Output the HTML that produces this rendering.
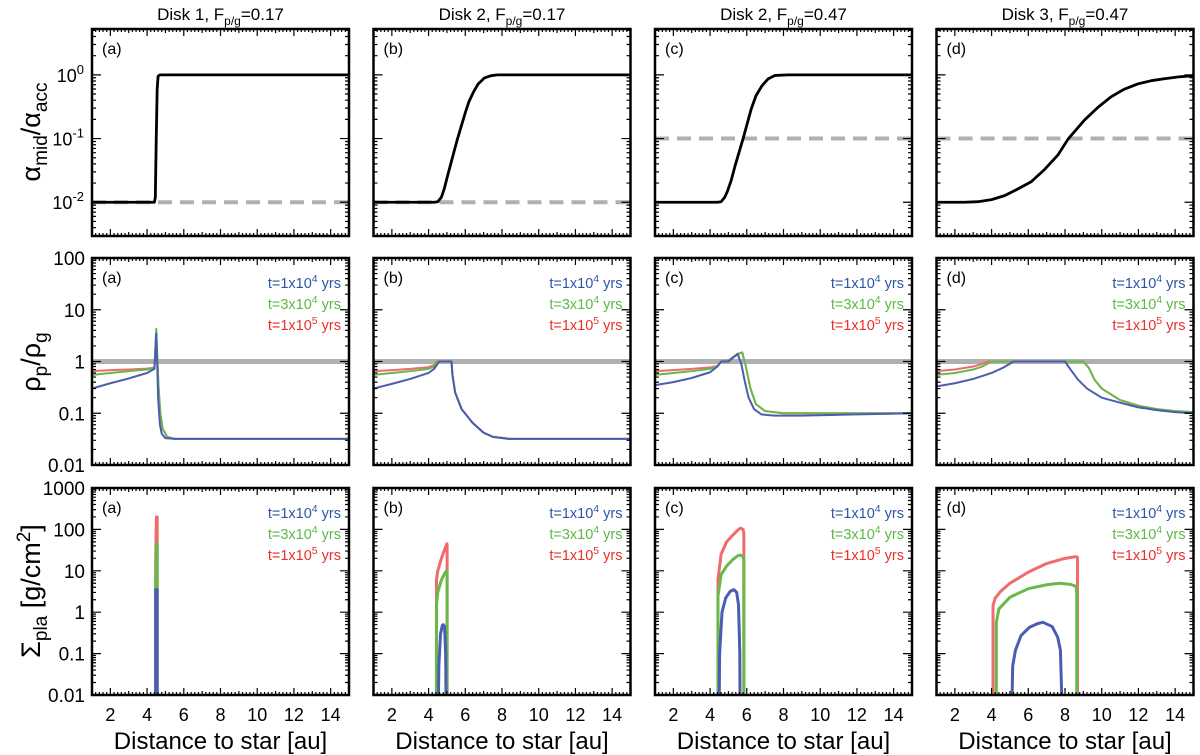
<!DOCTYPE html>
<html><head><meta charset="utf-8"><style>
html,body{margin:0;padding:0;background:#fff;}
svg{display:block;font-family:"Liberation Sans",Arial,sans-serif;}
</style></head><body>
<svg id="fig" width="1200" height="755" viewBox="0 0 1200 755"></svg>
<script>
// ---------- DATA ----------
const colTitles = ["Disk 1, F|p/g|=0.17","Disk 2, F|p/g|=0.17","Disk 2, F|p/g|=0.47","Disk 3, F|p/g|=0.47"];
const panelLetters = ["(a)","(b)","(c)","(d)"];
const xTicks = [2,4,6,8,10,12,14];
const row1Ticks = [1,0.1,0.01];
const row1TickExp = ["0","-1","-2"];
const row2Ticks = [100,10,1,0.1,0.01];
const row2TickLabels = ["100","10","1","0.1","0.01"];
const row3Ticks = [1000,100,10,1,0.1,0.01];
const row3TickLabels = ["1000","100","10","1","0.1","0.01"];
const legendLabels = [["t=1x10","4"," yrs"],["t=3x10","4"," yrs"],["t=1x10","5"," yrs"]];
const alphaRef = [0.01,0.01,0.1,0.1];
const rhoRef = 1;

// Row 1: alpha_mid/alpha_acc
const a1x=[1,4.4,4.45,4.5,4.55,4.6,4.7,15], a1y=[0.01,0.01,0.012,0.1,0.6,0.95,1,1];
const a2x=[1,4.3,4.5,4.7,4.86,5.05,5.29,5.58,6.01,6.2,6.45,6.7,7.03,7.4,7.75,15], a2y=[.01,.01,.0102,.012,.0165,.027,.049,.1,.26,.38,.54,.72,.89,.97,1,1];
const a3x=[1,4.4,4.6,4.8,4.94,5.15,5.37,5.8,6.24,6.5,6.82,7.15,7.54,8.26,15], a3y=[.01,.01,.0102,.012,.0147,.022,.038,.1,.29,.47,.67,.86,.98,1,1];
const a4x=[1,2.5,3.26,4,4.71,5.4,6.16,6.9,7.61,8.19,9.06,9.8,10.5,11.2,11.96,12.7,13.4,14.2,15], a4y=[.01,.01,.0102,.011,.0127,.016,.021,.033,.055,.1,.195,.31,.45,.59,.72,.81,.87,.93,.97];

// Row 2: rho_p/rho_g  (blue t=1e4, green t=3e4, red t=1e5)
const r1bx=[1,2,3,4,4.4,4.5,4.55,4.6,4.7,4.8,5,5.5,15], r1by=[.3,.38,.47,.6,.72,3.5,1,.2,.06,.04,.033,.032,.032];
const r1gx=[1,2,3,4,4.4,4.5,4.55,4.62,4.72,4.85,5.1,5.5,15], r1gy=[.55,.6,.65,.7,.75,4.3,1.5,.35,.1,.05,.035,.032,.032];
const r1rx=[1,2,3,4,4.4,4.5,4.55,4.62,4.72,4.85,5.1,5.5,15], r1ry=[.65,.68,.7,.73,.76,3,1.2,.35,.1,.05,.035,.032,.032];
const r2bx=[1,2,3,4,4.3,4.58,5.25,5.3,5.45,5.8,6.4,7,7.5,8.4,15], r2by=[.3,.37,.46,.6,.72,1,1,.55,.25,.12,.065,.042,.035,.032,.032];
const r2gx=[1,2,3,4,4.3,4.45,5.25,5.3,5.45,5.8,6.4,7,7.5,8.4,15], r2gy=[.55,.6,.65,.72,.8,1,1,.55,.25,.12,.065,.042,.035,.032,.032];
const r2rx=[1,2,3,4,4.3,4.45,5.25,5.3,5.45,5.8,6.4,7,7.5,8.4,15], r2ry=[.65,.68,.72,.78,.85,1,1,.55,.25,.12,.065,.042,.035,.032,.032];
const r3bx=[1,2,3,4,4.4,4.6,5.0,5.5,5.7,5.9,6.1,6.4,6.8,7.5,9,12,15], r3by=[.35,.4,.48,.62,.8,1,1,1.4,.9,.4,.2,.12,.095,.09,.09,.095,.1];
const r3gx=[1,2,3,4,4.4,4.6,5.0,5.5,5.75,5.95,6.2,6.5,7,8,15], r3gy=[.55,.6,.65,.72,.8,1,1.05,1.4,1.5,.8,.3,.15,.11,.1,.1];
const r3rx=[1,2,3,4,4.4,4.6,5.0,5.5,5.75,5.95,6.2,6.5,7,8,15], r3ry=[.65,.68,.72,.77,.82,1,1.05,1.4,1.5,.8,.3,.15,.11,.1,.1];
const r4bx=[1,2,3,4,4.6,5.2,8.0,8.3,8.7,9.2,10,11,12,13,14,15], r4by=[.33,.38,.46,.6,.75,1,1,.7,.45,.3,.2,.16,.13,.115,.105,.1];
const r4gx=[1,2,3,3.5,4,9.0,9.3,9.6,10,11,12,13,14,15], r4gy=[.55,.6,.7,.8,1,1,.75,.45,.3,.18,.14,.12,.11,.105];
const r4rx=[1,2,3,3.5,3.8,9.0,9.3,9.6,10,11,12,13,14,15], r4ry=[.65,.7,.8,.9,1,1,.75,.45,.3,.18,.14,.12,.11,.105];

// Row 3: Sigma_pla
const s1bx=[4.47,4.47,4.51,4.55,4.55], s1by=[.01,3.5,3.5,3.5,.01];
const s1gx=[4.47,4.47,4.51,4.55,4.55], s1gy=[.01,5,45,45,.01];
const s1rx=[4.47,4.47,4.51,4.55,4.55], s1ry=[.01,20,200,200,.01];
const s2bx=[4.54,4.56,4.65,4.75,4.8,4.87,4.93,4.95], s2by=[.01,.05,.3,.48,.5,.45,.1,.01];
const s2gx=[4.43,4.43,4.5,4.7,4.9,5.0,5.01,5.01], s2gy=[.01,1.5,3,6,9,10,9,.01];
const s2rx=[4.43,4.43,4.5,4.7,4.9,5.0,5.01,5.01], s2ry=[.01,6,10,20,35,45,40,.01];
const s3bx=[4.5,4.52,4.65,4.85,5.1,5.3,5.45,5.55,5.62,5.63], s3by=[.01,.1,1,2.2,3.2,3.5,3,1.5,.1,.01];
const s3gx=[4.43,4.43,4.6,4.9,5.2,5.5,5.65,5.8,5.84,5.84], s3gy=[.01,2.5,8,13,18,23,24,22,18,.01];
const s3rx=[4.43,4.43,4.6,4.9,5.2,5.5,5.65,5.8,5.84,5.84], s3ry=[.01,6,25,50,70,95,107,100,80,.01];
const s4bx=[5.12,5.15,5.3,5.6,6.06,6.5,6.8,7.3,7.6,7.75,7.82], s4by=[.01,.05,.12,.27,.43,.53,.57,.45,.25,.12,.01];
const s4gx=[4.26,4.26,4.4,5,6,7,7.7,8.3,8.6,8.64,8.64], s4gy=[.01,.57,1.2,2.3,3.7,4.6,5,4.7,4.2,3,.01];
const s4rx=[4.08,4.08,4.2,4.5,5,6,7,8,8.6,8.68,8.68], s4ry=[.01,1.45,2.2,3.2,5,9.3,15,20,22,21,.01];

// ---------- DRAWING ----------
const NS="http://www.w3.org/2000/svg";
const svg=document.getElementById('fig');
function mk(tag,attrs,parent){const e=document.createElementNS(NS,tag);for(const k in attrs)e.setAttribute(k,attrs[k]);(parent||svg).appendChild(e);return e;}
const colLeft=[92,373.5,655,936.5], PW=257;
const rowTop=[29,258,488], PH=207;
const yRange=[[-2.53,0.72],[-2,2],[-2,3]];
const XMIN=1,XMAX=15;
const BLUE="#4a5db0",GREEN="#6ab84a",RED="#f06b6b";
const TBLUE="#2c55a8",TGREEN="#5db845",TRED="#ea2e2a";

function xs(c,v){return colLeft[c]+(v-XMIN)/(XMAX-XMIN)*PW;}
function ys(r,v){const [lo,hi]=yRange[r];return rowTop[r]+PH-(Math.log10(v)-lo)/(hi-lo)*PH;}

function line(r,c,X,Y,color,w,name,dash){
  let d="";
  for(let i=0;i<X.length;i++){d+=(i?"L":"M")+xs(c,X[i]).toFixed(2)+","+ys(r,Y[i]).toFixed(2);}
  const p=mk('path',{d:d,fill:"none",stroke:color,"stroke-width":w,"stroke-linejoin":"round"});
  if(dash)p.setAttribute('stroke-dasharray',dash);
  
  
  return p;
}

const row1=[[a1x,a1y],[a2x,a2y],[a3x,a3y],[a4x,a4y]];
const row2=[[[r1rx,r1ry],[r1gx,r1gy],[r1bx,r1by]],[[r2rx,r2ry],[r2gx,r2gy],[r2bx,r2by]],[[r3rx,r3ry],[r3gx,r3gy],[r3bx,r3by]],[[r4rx,r4ry],[r4gx,r4gy],[r4bx,r4by]]];
const row3=[[[s1rx,s1ry],[s1gx,s1gy],[s1bx,s1by]],[[s2rx,s2ry],[s2gx,s2gy],[s2bx,s2by]],[[s3rx,s3ry],[s3gx,s3gy],[s3bx,s3by]],[[s4rx,s4ry],[s4gx,s4gy],[s4bx,s4by]]];
const sCols=[RED,GREEN,BLUE], sNames=["t1e5","t3e4","t1e4"];

for(let r=0;r<3;r++){
  for(let c=0;c<4;c++){
    const L=colLeft[c],T=rowTop[r];
    const g=mk('g',{});
    
    
    const clipId='cl'+r+c;
    const cp=mk('clipPath',{id:clipId},g); mk('rect',{x:L,y:T,width:PW,height:PH},cp);
    const plot=mk('g',{"clip-path":"url(#"+clipId+")"},g);
    if(r===0){
      const rl=line(0,c,[XMIN,XMAX],[alphaRef[c],alphaRef[c]],"#b0b0b0",4,'reference-dashed-line',"14,8");
      plot.appendChild(rl);
      const s=line(0,c,row1[c][0],row1[c][1],"#000",2.8,'alpha-ratio-curve');
      plot.appendChild(s);
    } else if(r===1){
      const rl=line(1,c,[XMIN,XMAX],[rhoRef,rhoRef],"#b0b0b0",5,'unity-reference-line');
      plot.appendChild(rl);
      for(let k=0;k<3;k++){const s=line(1,c,row2[c][k][0],row2[c][k][1],sCols[k],2,'rho-ratio-'+sNames[k]);plot.appendChild(s);}
    } else {
      for(let k=0;k<3;k++){const s=line(2,c,row3[c][k][0],row3[c][k][1],sCols[k],3,'sigma-pla-'+sNames[k]);plot.appendChild(s);}
    }
    let td="";
    for(let v=XMIN;v<=XMAX+1e-9;v+=0.2){
      const vv=Math.round(v*10)/10; const x=xs(c,vv);
      const len=(Math.abs(vv%2)<1e-6)?7:(Math.abs(vv-Math.round(vv))<1e-6?4:3);
      td+="M"+x+","+(T+PH)+"v-"+len+"M"+x+","+T+"v"+len;
    }
    const [lo,hi]=yRange[r];
    for(let e=Math.floor(lo);e<=Math.ceil(hi);e++){
      for(let m=1;m<10;m++){
        const lv=e+Math.log10(m); if(lv<lo-1e-9||lv>hi+1e-9)continue;
        const y=ys(r,Math.pow(10,lv)); const len=m===1?9:4;
        td+="M"+L+","+y+"h"+len+"M"+(L+PW)+","+y+"h-"+len;
      }
    }
    mk('path',{d:td,stroke:"#000","stroke-width":1.2,fill:"none"},g);
    const fr=mk('rect',{x:L,y:T,width:PW,height:PH,fill:"none",stroke:"#000","stroke-width":2.5},g);
    
    
    const lt=mk('text',{x:L+10,y:T+25,"font-size":16,fill:"#000"},g); lt.textContent=panelLetters[c];
    
    
    if(r>0){
      const tc=[TBLUE,TGREEN,TRED];
      for(let k=0;k<3;k++){
        const t=mk('text',{x:L+PW-8,y:T+30+k*21,"font-size":14.5,fill:tc[k],"text-anchor":"end"},g);
        
        
        const a=mk('tspan',{},t);a.textContent=legendLabels[k][0];
        const b=mk('tspan',{dy:-6,"font-size":10.5},t);b.textContent=legendLabels[k][1];
        const d=mk('tspan',{dy:6},t);d.textContent=legendLabels[k][2];
      }
    }
    if(c===0){
      if(r===0){
        for(let i=0;i<row1Ticks.length;i++){
          const t=mk('text',{x:L-8,y:ys(0,row1Ticks[i])+7,"font-size":18,"text-anchor":"end"},g);
          
          
          const a=mk('tspan',{},t);a.textContent="10";
          const b=mk('tspan',{dy:-8,"font-size":13},t);b.textContent=row1TickExp[i];
        }
      } else {
        const tk=r===1?row2Ticks:row3Ticks, tl=r===1?row2TickLabels:row3TickLabels;
        for(let i=0;i<tk.length;i++){
          const t=mk('text',{x:L-7,y:ys(r,tk[i])+7,"font-size":19,"text-anchor":"end"},g);
          t.textContent=tl[i];
          
          
        }
      }
    }
    if(r===2){
      for(const v of xTicks){
        const t=mk('text',{x:xs(c,v),y:T+PH+26,"font-size":18,"text-anchor":"middle"},g);
        t.textContent=v;
        
        
      }
      const xt=mk('text',{x:L+PW/2,y:T+PH+54,"font-size":24,"text-anchor":"middle"},g);
      xt.textContent="Distance to star [au]";
      
      
    }
    if(r===0){
      const parts=colTitles[c].split("|");
      const t=mk('text',{x:L+PW/2,y:20,"font-size":17,"text-anchor":"middle"},g);
      
      
      const a=mk('tspan',{},t);a.textContent=parts[0];
      const b=mk('tspan',{dy:5,"font-size":12},t);b.textContent=parts[1];
      const d=mk('tspan',{dy:-5},t);d.textContent=parts[2];
    }
  }
}
function ytitle(cy,parts,name){
  const t=mk('text',{transform:"translate(40,"+cy+") rotate(-90)","font-size":27,"text-anchor":"middle"});
  
  
  for(const p of parts){const s=mk('tspan',p[1]?{dy:p[1],"font-size":p[2]}:{},t);s.textContent=p[0];}
}
ytitle(132,[["α"],["mid",7,19],["/α",-7,27],["acc",7,19]],'y-axis-title-alpha');
ytitle(362,[["ρ"],["p",7,19],["/ρ",-7,27],["g",7,19]],'y-axis-title-rho');
ytitle(591,[["Σ"],["pla",7,19],[" [g/cm",-7,27],["2",-10,19],["]",10,27]],'y-axis-title-sigma');
</script>
</body></html>
